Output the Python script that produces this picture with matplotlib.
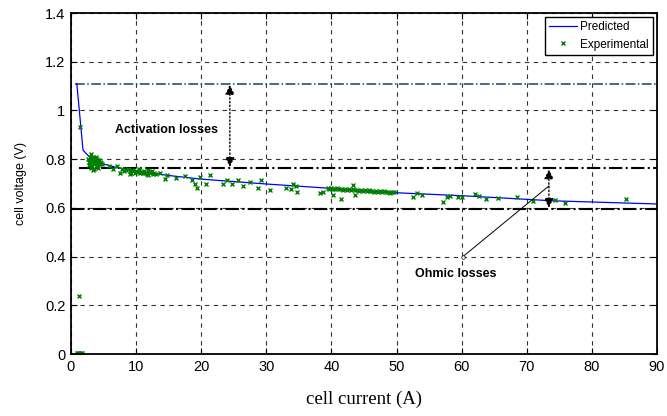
import numpy as np
import matplotlib.pyplot as plt

# predicted polarization curve
pred_i = [0.9, 1.85, 3, 5, 7, 10, 15, 20, 30, 40, 50, 60, 74, 90]
pred_v = [1.11, 0.837, 0.804, 0.78, 0.766, 0.752, 0.733, 0.718, 0.698, 0.68, 0.662, 0.65, 0.629, 0.616]

# experimental points
exp_i = [0.9, 1.1, 1.3, 1.5, 1.7, 1.2, 1.4,
         2.6, 2.8, 2.9, 3.0, 3.0, 3.1, 3.2, 3.3, 3.3, 3.4, 3.5, 3.5, 3.6, 3.6, 3.7,
         3.8, 3.8, 3.9, 4.0, 4.0, 4.1, 4.2, 4.3, 4.4, 4.5, 4.6, 2.7, 3.1, 3.4, 4.8,
         5.8, 6.5, 7.0, 7.5, 7.8, 8.2,
         8.5, 8.8, 9.0, 9.2, 9.4, 9.6, 9.8, 10.0, 10.2, 10.4, 10.6, 10.8, 11.0, 11.2,
         11.4, 11.6, 11.8, 12.0, 12.2, 12.4, 12.6, 12.8, 13.0, 9.1, 10.5, 11.9,
         13.7, 14.4, 14.7, 16.2, 17.5, 18.6, 19.0, 19.3, 19.8, 20.8, 21.3, 23.4, 23.9,
         24.7, 25.7, 26.4, 27.5, 28.7, 29.2, 30.6, 33.0, 33.8, 34.1, 34.6, 34.7, 38.2, 38.7,
         39.4, 39.7, 40.0, 40.3, 40.6, 40.9, 41.2, 41.5, 41.8, 42.1, 42.4, 42.7, 43.0,
         43.3, 43.6, 43.9, 44.2, 44.5, 44.8, 45.1, 45.4, 45.7, 46.0, 46.3, 46.6, 46.9,
         47.2, 47.5, 47.8, 48.1, 48.4, 48.7, 49.0, 49.3, 49.6,
         40.2, 41.5, 43.3, 43.6,
         52.5, 53.1, 53.9, 57.1, 57.7, 58.2, 59.5, 60.0, 62.0, 62.7, 63.7, 65.6,
         68.5, 71.0, 74.3, 75.9, 85.3]
exp_v = [0.005, 0.005, 0.005, 0.005, 0.005, 0.24, 0.93,
         0.80, 0.79, 0.81, 0.78, 0.80, 0.82, 0.79, 0.77, 0.80, 0.81, 0.78, 0.795, 0.76, 0.80, 0.785,
         0.81, 0.77, 0.79, 0.80, 0.775, 0.79, 0.765, 0.795, 0.78, 0.79, 0.785, 0.775, 0.765, 0.755, 0.78,
         0.77, 0.76, 0.77, 0.745, 0.76, 0.75,
         0.755, 0.76, 0.75, 0.745, 0.755, 0.75, 0.742, 0.752, 0.746, 0.75, 0.744, 0.748, 0.742, 0.75,
         0.745, 0.74, 0.755, 0.748, 0.742, 0.75, 0.738, 0.745, 0.74, 0.738, 0.758, 0.736,
         0.743, 0.718, 0.735, 0.722, 0.73, 0.714, 0.70, 0.68, 0.726, 0.70, 0.735, 0.698, 0.714,
         0.70, 0.714, 0.69, 0.706, 0.68, 0.714, 0.673, 0.68, 0.677, 0.698, 0.69, 0.665, 0.661, 0.665,
         0.681, 0.678, 0.683, 0.679, 0.676, 0.681, 0.677, 0.679, 0.675, 0.678, 0.674, 0.677, 0.673,
         0.676, 0.672, 0.675, 0.671, 0.674, 0.670, 0.673, 0.669, 0.672, 0.668, 0.671, 0.667, 0.670,
         0.666, 0.669, 0.665, 0.668, 0.664, 0.667, 0.663, 0.666, 0.664,
         0.653, 0.636, 0.694, 0.653,
         0.645, 0.66, 0.653, 0.624, 0.645, 0.649, 0.645, 0.645, 0.657, 0.649, 0.636, 0.64,
         0.645, 0.628, 0.632, 0.62, 0.636]

# reference voltage levels
v_rev = 1.11
v_act = 0.763
v_ohm = 0.595

plt.rcParams['font.family'] = ['Liberation Sans', 'DejaVu Sans']

fig = plt.figure(figsize=(6.67, 4.16), dpi=100)
ax = fig.add_axes([0.1064, 0.149, 0.8786, 0.8197])

ax.grid(True, color='#333333', linestyle=(0, (4, 4)), linewidth=0.8)
ax.set_axisbelow(True)

ax.plot([0.6, 90], [v_rev, v_rev], color='#1f3a6e', linestyle='-.', linewidth=1.1)
ax.plot([1.2, 90], [v_act, v_act], color='black', linestyle='-.', linewidth=1.5)
ax.plot([0, 90], [v_ohm, v_ohm], color='black', linestyle='-.', linewidth=1.5)

ax.plot(pred_i, pred_v, color='blue', linewidth=0.9, label='Predicted')
ax.plot(exp_i, exp_v, linestyle='none', marker='x', markersize=3, markeredgewidth=1.0,
        color='green', label='Experimental')

# loss arrows
ax.annotate('', xy=(24.4, v_rev - 0.005), xytext=(24.4, v_act + 0.005),
            arrowprops=dict(arrowstyle='<|-|>', color='black', linestyle=':', linewidth=1,
                            mutation_scale=14, shrinkA=0, shrinkB=0))
ax.annotate('', xy=(73.4, v_act - 0.005), xytext=(73.4, v_ohm + 0.005),
            arrowprops=dict(arrowstyle='<|-|>', color='black', linestyle=':', linewidth=1,
                            mutation_scale=14, shrinkA=0, shrinkB=0))
ax.text(14.6, 0.92, 'Activation losses', fontsize=9, fontweight='bold', ha='center', va='center')
ax.text(59.1, 0.33, 'Ohmic losses', fontsize=9, fontweight='bold', ha='center', va='center')
ax.plot([60.2, 73.4], [0.4, 0.69], color='black', linewidth=0.7)
ax.plot([60.2], [0.4], marker='o', markersize=2.5, markerfacecolor='white',
        markeredgecolor='black', markeredgewidth=0.5)

ax.set_xlim(0, 90)
ax.set_ylim(0, 1.4)
ax.set_xticks(np.arange(0, 91, 10))
ax.set_yticks([0, 0.2, 0.4, 0.6, 0.8, 1, 1.2, 1.4])
ax.set_yticklabels(['0', '0.2', '0.4', '0.6', '0.8', '1', '1.2', '1.4'])
ax.tick_params(direction='in', top=True, right=True, labelsize=10.5, length=4, pad=4)
for s in ax.spines.values():
    s.set_linewidth(1.3)

ax.set_xlabel('cell current (A)', fontsize=13.5, family='Liberation Serif', labelpad=12)
ax.set_ylabel('cell voltage (V)', fontsize=9, labelpad=13)

leg = ax.legend(loc='upper right', fontsize=8.5, fancybox=False, edgecolor='black',
                framealpha=1, borderpad=0.35, handlelength=2.3, handletextpad=0.3,
                labelspacing=0.45, borderaxespad=0.35)
leg.get_frame().set_linewidth(1.0)

fig.savefig('out.png', dpi=100)
